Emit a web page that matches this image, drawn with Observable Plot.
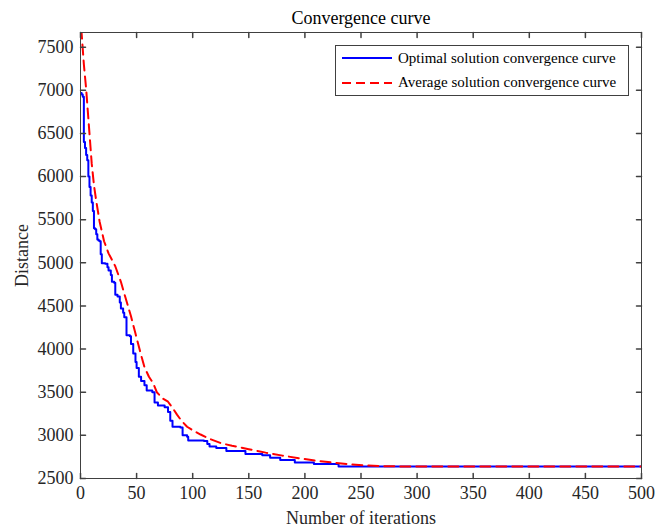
<!DOCTYPE html>
<html><head><meta charset="utf-8">
<script src="https://cdn.jsdelivr.net/npm/d3@7"></script>
<script src="https://cdn.jsdelivr.net/npm/@observablehq/plot@0.6"></script>
<style>
body{margin:0;background:#fff;}
#wrap{position:relative;width:656px;height:527px;}
#wrap svg text{font-family:"Liberation Serif",serif !important;font-variant-numeric:normal !important;}
#legend{position:absolute;left:335px;top:45px;width:294px;height:51px;border:1px solid #404040;background:#fff;box-sizing:border-box;font-family:"Liberation Serif",serif;font-size:15px;color:#000;}
#legend .row{position:absolute;left:5px;height:20px;display:flex;align-items:center;}
#legend svg{display:block;margin-right:5px;}
</style>
</head><body><div id="wrap"></div>
<script>
// Optimal (best-so-far) solution: iteration where value changes, value
const optIter = [0,1,2,3,4,5,6,7,8,9,10,11,12,13,14,15,16,17,18,19,22,24,25,27,28,30,31,33,35,36,38,39,41,44,45,47,49,50,52,54,57,59,64,66,69,75,78,80,82,89,91,95,96,110,113,115,121,130,147,162,169,178,191,208,230,500];
const optVal  = [6970,6950,6925,6400,6330,6250,6190,6000,5880,5780,5700,5600,5400,5390,5330,5270,5260,5250,5100,4995,4990,4950,4910,4860,4780,4770,4630,4610,4540,4470,4420,4370,4160,4150,4060,3950,3850,3780,3680,3630,3580,3520,3500,3380,3345,3325,3270,3170,3100,3090,3000,2985,2940,2935,2900,2870,2855,2820,2785,2770,2740,2714,2686,2667,2640,2640];
// Average solution
const avgIter = [0,1,2,3,5,8,10,12,14,17,21,25,31,36,40,45,49,53,57,61,65,68,73,78,82,86,90,95,100,107,115,125,135,150,165,180,195,210,225,240,255,270,285,500];
const avgVal  = [7900,7660,7480,7300,7020,6500,6150,5900,5720,5480,5250,5110,4960,4780,4600,4380,4180,3980,3790,3680,3600,3500,3430,3390,3320,3240,3170,3100,3060,3010,2960,2910,2880,2840,2800,2765,2735,2705,2685,2665,2650,2643,2640,2640];

const xTicks = [0,50,100,150,200,250,300,350,400,450,500];
const yTicks = [2500,3000,3500,4000,4500,5000,5500,6000,6500,7000,7500];
const xDomain = [0,500];
const yDomain = [2500,7670];
const titleText = "Convergence curve";
const xLabel = "Number of iterations";
const yLabel = "Distance";
const seriesNames = ["Optimal solution convergence curve","Average solution convergence curve"];

const opt = optIter.map((x,i)=>({x, y: optVal[i]}));
const avg = avgIter.map((x,i)=>({x, y: avgVal[i]}));
const axisColor = "#404040";
const font = "Liberation Serif";
const tickShape = {draw(ctx, l){ ctx.moveTo(0,0); ctx.lineTo(0,-l); }};

const chart = Plot.plot({
  width:656, height:527,
  marginLeft:80, marginRight:15, marginTop:32, marginBottom:49,
  style:{fontFamily:font, fontSize:"18px", background:"white", color:"#262626", overflow:"visible"},
  x:{domain:xDomain},
  y:{domain:yDomain},
  marks:[
    Plot.line(opt, {x:"x", y:"y", curve:"step-after", stroke:"#0000ff", strokeWidth:2, clip:true}),
    Plot.line(avg, {x:"x", y:"y", stroke:"#ff0000", strokeWidth:2, strokeDasharray:"10,6", clip:true}),
    Plot.frame({stroke: axisColor}),
    Plot.axisX(xTicks, {tickSize:0, tickPadding:8, fontSize:18, fontFamily:font, tickFormat:d=>String(d), label:null, fill:"#262626"}),
    Plot.axisY(yTicks, {tickSize:0, tickPadding:7, fontSize:18, fontFamily:font, tickFormat:d=>String(d), label:null, fill:"#262626"}),
    Plot.vector(xTicks, {x:d=>d, y:yDomain[0], length:5, anchor:"start", rotate:0, shape:tickShape, stroke:axisColor}),
    Plot.vector(xTicks, {x:d=>d, y:yDomain[1], length:5, anchor:"start", rotate:180, shape:tickShape, stroke:axisColor}),
    Plot.vector(yTicks, {x:xDomain[0], y:d=>d, length:5, anchor:"start", rotate:90, shape:tickShape, stroke:axisColor}),
    Plot.vector(yTicks, {x:xDomain[1], y:d=>d, length:5, anchor:"start", rotate:-90, shape:tickShape, stroke:axisColor}),
    Plot.text([titleText], {frameAnchor:"top", dy:-14, lineAnchor:"middle", textAnchor:"middle", fontSize:18, fontFamily:font, fill:"#000"}),
    Plot.text([xLabel], {frameAnchor:"bottom", dy:40, lineAnchor:"middle", textAnchor:"middle", fontSize:18, fontFamily:font, fill:"#262626"}),
    Plot.text([yLabel], {frameAnchor:"left", dx:-58, rotate:-90, lineAnchor:"middle", textAnchor:"middle", fontSize:18, fontFamily:font, fill:"#262626"})
  ]
});
const wrap = document.getElementById("wrap");
wrap.appendChild(chart);

const legend = document.createElement("div");
legend.id = "legend";
const styles = [{stroke:"#0000ff", dash:null},{stroke:"#ff0000", dash:"9,5"}];
seriesNames.forEach((name,i)=>{
  const row = document.createElement("div");
  row.className = "row";
  row.style.top = (2 + i*24.5) + "px";
  row.innerHTML = `<svg width="52" height="10"><line x1="1" x2="51" y1="5" y2="5" stroke="${styles[i].stroke}" stroke-width="2" ${styles[i].dash?`stroke-dasharray="${styles[i].dash}"`:""}/></svg><span>${name}</span>`;
  legend.appendChild(row);
});
wrap.appendChild(legend);
</script>
</body></html>
